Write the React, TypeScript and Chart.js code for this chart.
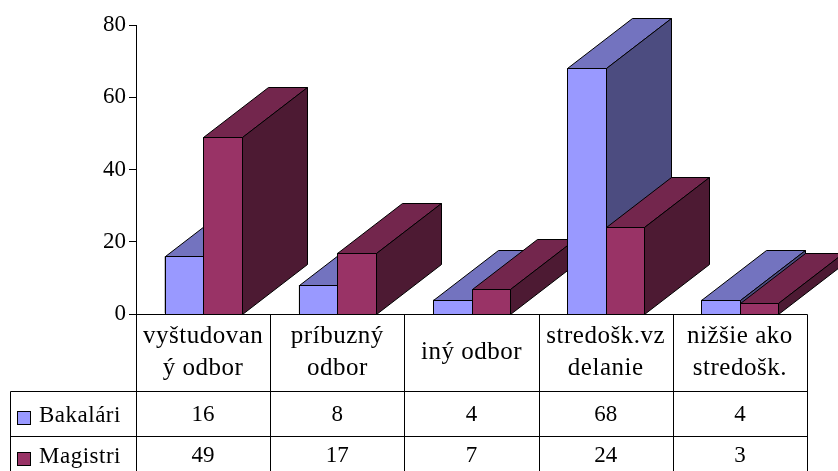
import React, { useEffect, useRef } from "react";
import { Chart, registerables } from "chart.js";

Chart.register(...registerables);

const categories: string[][] = [
  ["vyštudovan", "ý odbor"],
  ["príbuzný", "odbor"],
  ["iný odbor"],
  ["stredošk.vz", "delanie"],
  ["nižšie ako", "stredošk."],
];
const seriesNames = ["Bakalári", "Magistri"];
const bakalari = [16, 8, 4, 68, 4];
const magistri = [49, 17, 7, 24, 3];
const yTicks = [0, 20, 40, 60, 80];

const frontColors = ["#9999FF", "#993366"];
const topColors = ["#7373BF", "#73264D"];
const sideColors = ["#4C4C80", "#4D1A33"];

const FONT = "'Liberation Serif', 'Times New Roman', serif";
const DEPTH_X = 65;
const DEPTH_Y = -50;

function poly(ctx: CanvasRenderingContext2D, pts: number[][], fill: string) {
  ctx.beginPath();
  ctx.moveTo(pts[0][0], pts[0][1]);
  for (let i = 1; i < pts.length; i++) ctx.lineTo(pts[i][0], pts[i][1]);
  ctx.closePath();
  ctx.fillStyle = fill;
  ctx.fill();
  ctx.stroke();
}

const bar3d = {
  id: "bar3d",
  afterDatasetsDraw(chart: any) {
    const ctx: CanvasRenderingContext2D = chart.ctx;
    ctx.save();
    ctx.lineWidth = 1;
    ctx.strokeStyle = "#000";
    const n = chart.data.labels.length;
    for (let i = 0; i < n; i++) {
      chart.data.datasets.forEach((ds: any, d: number) => {
        const el = chart.getDatasetMeta(d).data[i];
        const { x, y, base, width } = el.getProps(["x", "y", "base", "width"], true);
        const l = Math.round(x - width / 2) + 0.5;
        const r = Math.round(x + width / 2) + 0.5;
        const t = Math.round(y) + 0.5;
        const b = Math.round(base) + 0.5;
        poly(ctx, [[l, t], [r, t], [r, b], [l, b]], frontColors[d]);
        poly(ctx, [[l, t], [l + DEPTH_X, t + DEPTH_Y], [r + DEPTH_X, t + DEPTH_Y], [r, t]], topColors[d]);
        poly(ctx, [[r, t], [r + DEPTH_X, t + DEPTH_Y], [r + DEPTH_X, b + DEPTH_Y], [r, b]], sideColors[d]);
      });
    }
    ctx.restore();
  },
};

const dataTable = {
  id: "dataTable",
  afterDraw(chart: any) {
    const ctx: CanvasRenderingContext2D = chart.ctx;
    const { left, right, bottom } = chart.chartArea;
    const xs = chart.scales.x;
    const n = chart.data.labels.length;
    const colW = (right - left) / n;
    const tableLeft = 10;
    const headerH = 77;
    const rowH = 45;
    const rowTops = [bottom + headerH, bottom + headerH + rowH];
    const canvasH = chart.height;
    const a = (v: number) => Math.round(v) + 0.5;

    ctx.save();
    ctx.strokeStyle = "#000";
    ctx.lineWidth = 1;
    ctx.beginPath();
    ctx.moveTo(left, a(bottom));
    ctx.lineTo(a(right), a(bottom));
    rowTops.forEach((ry) => {
      ctx.moveTo(a(tableLeft), a(ry));
      ctx.lineTo(a(right), a(ry));
    });
    ctx.moveTo(a(tableLeft), a(rowTops[0]));
    ctx.lineTo(a(tableLeft), canvasH + 2);
    for (let k = 0; k <= n; k++) {
      const vx = a(left + k * colW);
      ctx.moveTo(vx, a(bottom));
      ctx.lineTo(vx, canvasH + 2);
    }
    ctx.stroke();

    ctx.fillStyle = "#000";
    ctx.textAlign = "center";
    ctx.textBaseline = "middle";

    // header (category names)
    ctx.font = `25px ${FONT}`;
    const hc = bottom + headerH / 2;
    (ctx as any).letterSpacing = "0.5px";
    chart.data.labels.forEach((lab: string[], i: number) => {
      const cx = xs.getPixelForValue(i);
      const lines = Array.isArray(lab) ? lab : [lab];
      const lh = 32;
      lines.forEach((line, j) => {
        const ly = hc + (j - (lines.length - 1) / 2) * lh;
        ctx.fillText(line, cx, ly);
      });
    });

    // data rows + legend keys
    ctx.font = `23px ${FONT}`;
    const textOffsets = [24, 20];
    chart.data.datasets.forEach((ds: any, d: number) => {
      const ty = rowTops[d] + textOffsets[d];
      (ctx as any).letterSpacing = "0px";
      ds.data.forEach((v: number, i: number) => {
        ctx.fillText(String(v), xs.getPixelForValue(i), ty);
      });
      const sw = 13;
      const sy = Math.round(ty - sw / 2 + 2) + 0.5;
      ctx.fillStyle = frontColors[d];
      ctx.fillRect(17.5, sy, sw, sw);
      ctx.strokeRect(17.5, sy, sw, sw);
      ctx.fillStyle = "#000";
      ctx.textAlign = "left";
      (ctx as any).letterSpacing = "0.5px";
      ctx.fillText(ds.label, 39, ty + 1);
      ctx.textAlign = "center";
    });
    ctx.restore();
  },
};

export default function App() {
  const ref = useRef<HTMLCanvasElement>(null);
  useEffect(() => {
    if (!ref.current) return;
    const chart = new Chart(ref.current, {
      type: "bar",
      data: {
        labels: categories as any,
        datasets: [
          {
            label: seriesNames[0],
            data: bakalari,
            backgroundColor: frontColors[0],
            borderColor: "#000",
            borderWidth: 1,
          },
          {
            label: seriesNames[1],
            data: magistri,
            backgroundColor: frontColors[1],
            borderColor: "#000",
            borderWidth: 1,
          },
        ],
      },
      options: {
        responsive: false,
        animation: false,
        layout: { padding: { left: 0, top: 25, right: 31, bottom: 157 } },
        datasets: { bar: { categoryPercentage: 0.575, barPercentage: 1 } },
        plugins: { legend: { display: false }, tooltip: { enabled: false } },
        scales: {
          x: { type: "category", display: false, offset: true },
          y: {
            min: 0,
            max: 80,
            afterBuildTicks: (s: any) => {
              s.ticks = yTicks.map((v) => ({ value: v }));
            },
            afterFit: (s: any) => {
              s.width = 136;
            },
            ticks: {
              color: "#000",
              font: { family: FONT, size: 23 },
              padding: 3,
            },
            grid: {
              drawOnChartArea: false,
              drawTicks: true,
              tickLength: 7,
              color: "#000",
              lineWidth: 1,
            },
            border: { display: true, color: "#000", width: 1 },
          },
        },
      } as any,
      plugins: [bar3d, dataTable],
    });
    return () => chart.destroy();
  }, []);
  return (
    <div style={{ position: "absolute", left: 0, top: 0, width: 838, height: 471, background: "#fff" }}>
      <canvas ref={ref} width={838} height={471} style={{ display: "block" }} />
    </div>
  );
}
